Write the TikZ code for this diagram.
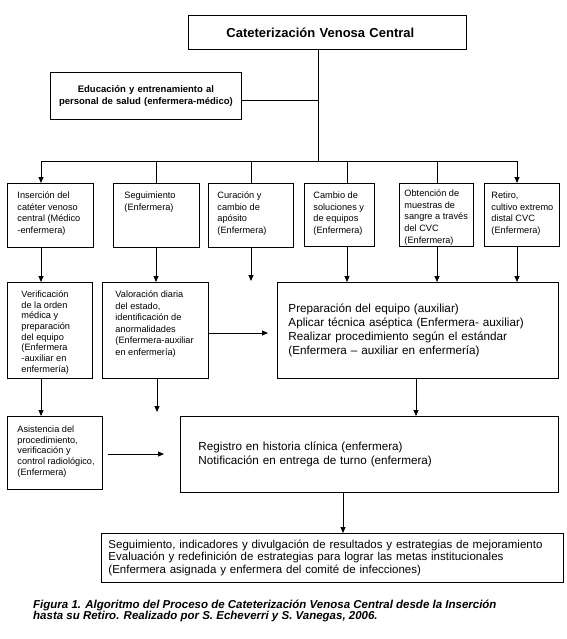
\documentclass[tikz,border=0pt]{standalone}
\usepackage{fontspec}
\setmainfont{Liberation Sans}
\usetikzlibrary{arrows.meta}
% fixed-size text block: width, height, top space, left pad, text
\newcommand\tbx[5]{\parbox[t][#2pt][t]{#1pt}{\vspace*{#3pt}\leftskip=#4pt\rightskip=0pt plus 1fil\parindent=0pt\parfillskip=0pt plus 1fil\strut #5\par}}
\tikzset{
  ln/.style={line width=0.9pt},
  arr/.style={ln,-{Triangle[length=6pt,width=5pt]}},
  sbox/.style={draw,ln,inner sep=0pt,anchor=north west},
  sm/.style={font=\fontsize{9.2}{11.7}\selectfont},
  lbox/.style={draw,ln,anchor=north west,inner ysep=0pt,align=left,font=\fontsize{11.7}{14}\selectfont},
}
\begin{document}
\begin{tikzpicture}[x=1pt,y=-1pt]
\fill[white] (0,0) rectangle (566,639);
\useasboundingbox (0,0) rectangle (566,639);

% top
\node[draw,ln,anchor=north west,minimum width=278pt,minimum height=34pt,text width=202pt,inner xsep=38pt,inner ysep=0pt,align=left,font=\bfseries\fontsize{13}{15}\selectfont] (title) at (188,15) {Cateterización Venosa Central};
\node[draw,ln,anchor=north west,minimum width=191pt,minimum height=47pt,text width=185pt,inner xsep=3pt,inner ysep=0pt,align=center,font=\bfseries\fontsize{9.5}{12.5}\selectfont] (edu) at (50,72) {Educación y entrenamiento al\\personal de salud (enfermera-médico)};

% row 1
\node[sbox,sm] (b1) at (7,183) {\tbx{86}{64}{6.8}{10}{Inserción del\\catéter venoso\\central (Médico\\-enfermera)}};
\node[sbox,sm] (b2) at (113,183) {\tbx{86}{64}{6.8}{11}{Seguimiento\\(Enfermera)}};
\node[sbox,sm] (b3) at (208,183) {\tbx{85}{64}{6.8}{9}{Curación y\\cambio de\\apósito\\(Enfermera)}};
\node[sbox,sm] (b4) at (304,183) {\tbx{70}{63}{6.8}{9}{Cambio de\\soluciones y\\de equipos\\(Enfermera)}};
\node[sbox,sm] (b5) at (399,183) {\tbx{74}{63}{4.8}{5}{Obtención de\\muestras de\\sangre a través\\del CVC\\(Enfermera)}};
\node[sbox,sm] (b6) at (484,183) {\tbx{75}{63}{6.8}{7}{Retiro,\\cultivo extremo\\distal CVC\\(Enfermera)}};

% row 2
\node[sbox,font=\fontsize{9.2}{10.7}\selectfont] (v1) at (7,282) {\tbx{85}{96}{7.5}{14}{Verificación\\de la orden\\médica y\\preparación\\del equipo\\(Enfermera\\-auxiliar en\\enfermería)}};
\node[sbox,font=\fontsize{9.2}{11.6}\selectfont] (v2) at (102,282) {\tbx{106}{96}{6.9}{13}{Valoración diaria\\del estado,\\identificación de\\anormalidades\\(Enfermera-auxiliar\\en enfermería)}};
\node[lbox,minimum width=281pt,minimum height=96pt,text width=259pt,inner xsep=11pt] (big) at (277,282) {Preparación del equipo (auxiliar)\\Aplicar técnica aséptica (Enfermera- auxiliar)\\Realizar procedimiento según el estándar\\(Enfermera – auxiliar en enfermería)};

% row 3
\node[sbox,font=\fontsize{9.2}{10.75}\selectfont] (asis) at (7,416) {\tbx{95}{73}{8.5}{10}{Asistencia del\\procedimiento,\\verificación y\\control radiológico,\\(Enfermera)}};
\node[lbox,minimum width=378pt,minimum height=76pt,text width=342pt,inner xsep=18pt] (reg) at (180,416) {Registro en historia clínica (enfermera)\\Notificación en entrega de turno (enfermera)};

% row 4
\node[lbox,minimum width=462pt,minimum height=49pt,text width=448pt,inner xsep=7pt,font=\fontsize{11.5}{12.5}\selectfont] (bot) at (101,533) {\hyphenpenalty=10000 Seguimiento, indicadores y divulgación de resultados y estrategias de mejoramiento\\Evaluación y redefinición de estrategias para lograr las metas institucionales\\(Enfermera asignada y enfermera del comité de infecciones)\\[-2pt]};

% caption
\node[anchor=north west,inner sep=0pt,align=left,font=\bfseries\itshape\fontsize{11.5}{11.8}\selectfont] (cap) at (33,599.5) {Figura 1. Algoritmo del Proceso de Cateterización Venosa Central desde la Inserción\\hasta su Retiro. Realizado por S. Echeverri y S. Vanegas, 2006.};

% coordinates
\coordinate (j) at (318,161);
\coordinate (ej) at (318,100);
\coordinate (bl) at (41,161);
\coordinate (br) at (517,161);
\coordinate (c2) at (156,161);
\coordinate (c3) at (251,161);
\coordinate (c4) at (347,161);
\coordinate (c5) at (437,161);
\coordinate (f3) at (251,281);
\coordinate (f4) at (268,333);
\coordinate (f5) at (157,412);
\coordinate (f6) at (164,454);
\coordinate (x7) at (416,400);
\coordinate (x8) at (343,510);

% connectors
\draw[ln] (title.south -| j) -- (j);
\draw[ln] (edu.east |- ej) -- (ej);
\draw[ln] (bl) -- (br);
\draw[arr] (bl) -- (b1.north -| bl);
\draw[ln] (c2) -- (b2.north -| c2);
\draw[ln] (c3) -- (b3.north -| c3);
\draw[ln] (c4) -- (b4.north -| c4);
\draw[ln] (c5) -- (b5.north -| c5);
\draw[arr] (br) -- (b6.north -| br);

\draw[arr] (b1.south -| bl) -- (v1.north -| bl);
\draw[arr] (b2.south -| c2) -- (v2.north -| c2);
\draw[arr] (b3.south -| f3) -- (f3);
\draw[arr] (b4.south -| c4) -- (big.north -| c4);
\draw[arr] (b5.south -| c5) -- (big.north -| c5);
\draw[arr] (b6.south -| br) -- (big.north -| br);
\draw[arr] (v2.east |- f4) -- (f4);

\draw[arr] (v1.south -| bl) -- (asis.north -| bl);
\draw[arr] (v2.south -| f5) -- (f5);
\draw[arr] (big.south -| x7) -- (reg.north -| x7);
\draw[arr,shorten <=5pt] (asis.east |- f6) -- (f6);
\draw[arr] (reg.south -| x8) -- (bot.north -| x8);
\end{tikzpicture}
\end{document}
